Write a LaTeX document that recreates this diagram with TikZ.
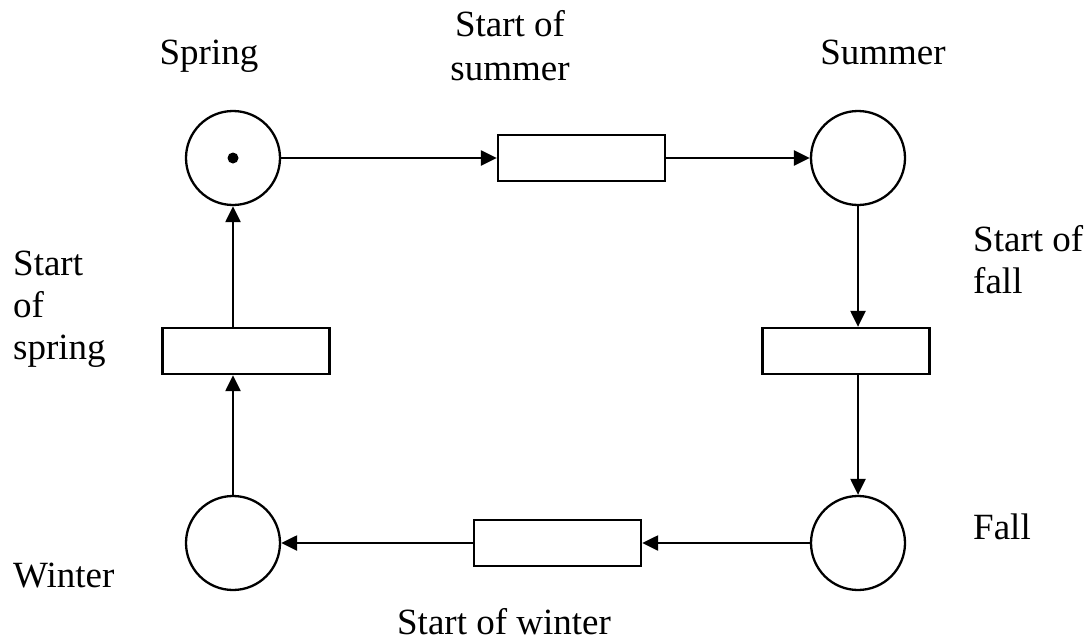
\documentclass[tikz,border=0pt]{standalone}
\usepackage{fontspec}
\setmainfont{Liberation Serif}
\usetikzlibrary{arrows.meta}
\begin{document}
\begin{tikzpicture}[x=1pt,y=-1pt,
  place/.style={circle,draw,line width=2.3pt,minimum size=94pt,inner sep=0pt},
  trans/.style={rectangle,draw,line width=2.3pt,minimum width=167pt,minimum height=46pt,inner sep=0pt},
  token/.style={circle,fill,minimum size=11pt,inner sep=0pt},
  arc/.style={line width=2.3pt,-{Triangle[length=16pt,width=15pt]}},
  lbl/.style={font=\fontsize{37}{42}\selectfont,inner sep=0pt}]
\useasboundingbox (0,0) rectangle (1091,642);
% places
\node[place] (spring) at (233,158) {};
\node[token] (tok) at (spring.center) {};
\node[place] (summer) at (858,158) {};
\node[place] (fall) at (858,543) {};
\node[place] (winter) at (233,543) {};
% transitions
\node[trans] (tsummer) at (581.5,158) {};
\node[trans] (tfall) at (846,351) {};
\node[trans] (tspring) at (246,351) {};
\node[trans] (twinter) at (557.5,543) {};
% arcs
\draw[arc] (spring) -- (tsummer);
\draw[arc] (tsummer) -- (summer);
\draw[arc] (summer.south) -- (summer.south |- tfall.north);
\draw[arc] (summer.south |- tfall.south) -- (fall.north);
\draw[arc] (fall) -- (twinter);
\draw[arc] (twinter) -- (winter);
\draw[arc] (winter.north) -- (winter.north |- tspring.south);
\draw[arc] (winter.north |- tspring.north) -- (spring.south);
% labels
\node[lbl,anchor=base] (lspring) at (209,64) {Spring};
\node[lbl,anchor=base] (lsummer) at (883,64) {Summer};
\node[lbl,anchor=base] (ltsummer1) at (510,37) {Start of};
\node[lbl,anchor=base] (ltsummer2) at (510,80) {summer};
\node[lbl,anchor=base west] (ltfall1) at (973,251) {Start of};
\node[lbl,anchor=base west] (ltfall2) at (973,293) {fall};
\node[lbl,anchor=base west] (ltspring1) at (13,275) {Start};
\node[lbl,anchor=base west] (ltspring2) at (13,317) {of};
\node[lbl,anchor=base west] (ltspring3) at (13,359) {spring};
\node[lbl,anchor=base west] (lfall) at (973,539) {Fall};
\node[lbl,anchor=base west] (lwinter) at (13,587) {Winter};
\node[lbl,anchor=base] (ltwinter) at (504,634) {Start of winter};
\end{tikzpicture}
\end{document}
